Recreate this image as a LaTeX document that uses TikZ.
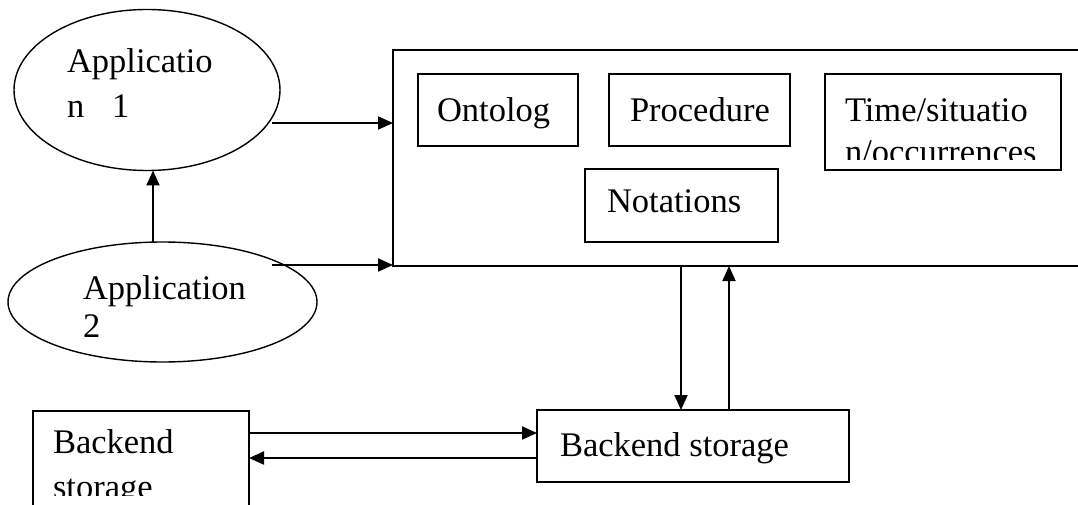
\documentclass[tikz,border=0pt]{standalone}
\usepackage{fontspec}
\setmainfont{Liberation Serif}
\usetikzlibrary{shapes.geometric,arrows.meta}
\begin{document}
\begin{tikzpicture}[x=1pt,y=-1pt,
  box/.style={draw,line width=1.6pt,rectangle,inner sep=0pt,outer sep=0pt},
  oval/.style={draw,line width=1.4pt,ellipse,inner sep=0pt,outer sep=0pt},
  lbl/.style={anchor=base west,inner sep=0pt,outer sep=0pt,font=\fontsize{34.5}{40}\selectfont},
  arr/.style={line width=2pt,-{Triangle[length=15pt,width=13pt]}}]
\useasboundingbox (0,0) rectangle (1078,505);
\clip (0,0) rectangle (1078,505);
\fill[white] (0,0) rectangle (1078,505);
% shapes
\node[oval,minimum width=266pt,minimum height=161pt] (app1) at (147,90) {};
\node[oval,minimum width=309pt,minimum height=120pt] (app2) at (162.5,302) {};
\node[box,minimum width=720pt,minimum height=216pt] (big) at (753,158) {};
\node[box,minimum width=160pt,minimum height=72pt] (onto) at (498,110) {};
\node[box,minimum width=181pt,minimum height=72pt] (proc) at (699.5,110) {};
\node[box,minimum width=236pt,minimum height=96pt] (time) at (943,122) {};
\node[box,minimum width=193pt,minimum height=73pt] (nota) at (681.5,205.5) {};
\node[box,minimum width=312pt,minimum height=72pt] (bs) at (693,446) {};
\node[box,minimum width=216pt,minimum height=108pt] (bl) at (141,465) {};
% texts
\node[lbl] (t1a) at (67,73) {Applicatio};
\node[lbl] (t1b) at (67,118) {n\hspace{28pt}1};
\node[lbl] (t2a) at (83,299) {Application};
\node[lbl] (t2b) at (83,337) {2};
\node[lbl] (tonto) at (437,122) {Ontolog};
\node[lbl] (tproc) at (630,122) {Procedure};
\node[lbl] (ttimea) at (845,122) {Time/situatio};
\begin{scope}
\clip (800,60) rectangle (1070,160);
\node[lbl] (ttimeb) at (845,164) {n/occurrences};
\end{scope}
\node[lbl] (tnota) at (607,212) {Notations};
\node[lbl] (tbs) at (560,456) {Backend storage};
\node[lbl] (tbla) at (53,453) {Backend};
\begin{scope}
\clip (30,460) rectangle (260,495);
\node[lbl] (tblb) at (53,498) {storage};
\end{scope}
% connectors
\coordinate (a1) at (272,123);
\draw[arr] (a1) -- (a1 -| big.west);
\coordinate (a2) at (272,265);
\draw[arr] (a2) -- (a2 -| big.west);
\coordinate (v2) at (153,242);
\draw[arr] (v2) -- (v2 |- app1.south);
\coordinate (d1) at (681,266);
\draw[arr] (d1) -- (d1 |- bs.north);
\coordinate (u1) at (729,410);
\draw[arr] (u1) -- (u1 |- big.south);
\coordinate (h1) at (249,433);
\draw[arr] (h1) -- (h1 -| bs.west);
\coordinate (h2) at (537,458);
\draw[arr] (h2) -- (h2 -| bl.east);
\end{tikzpicture}
\end{document}
